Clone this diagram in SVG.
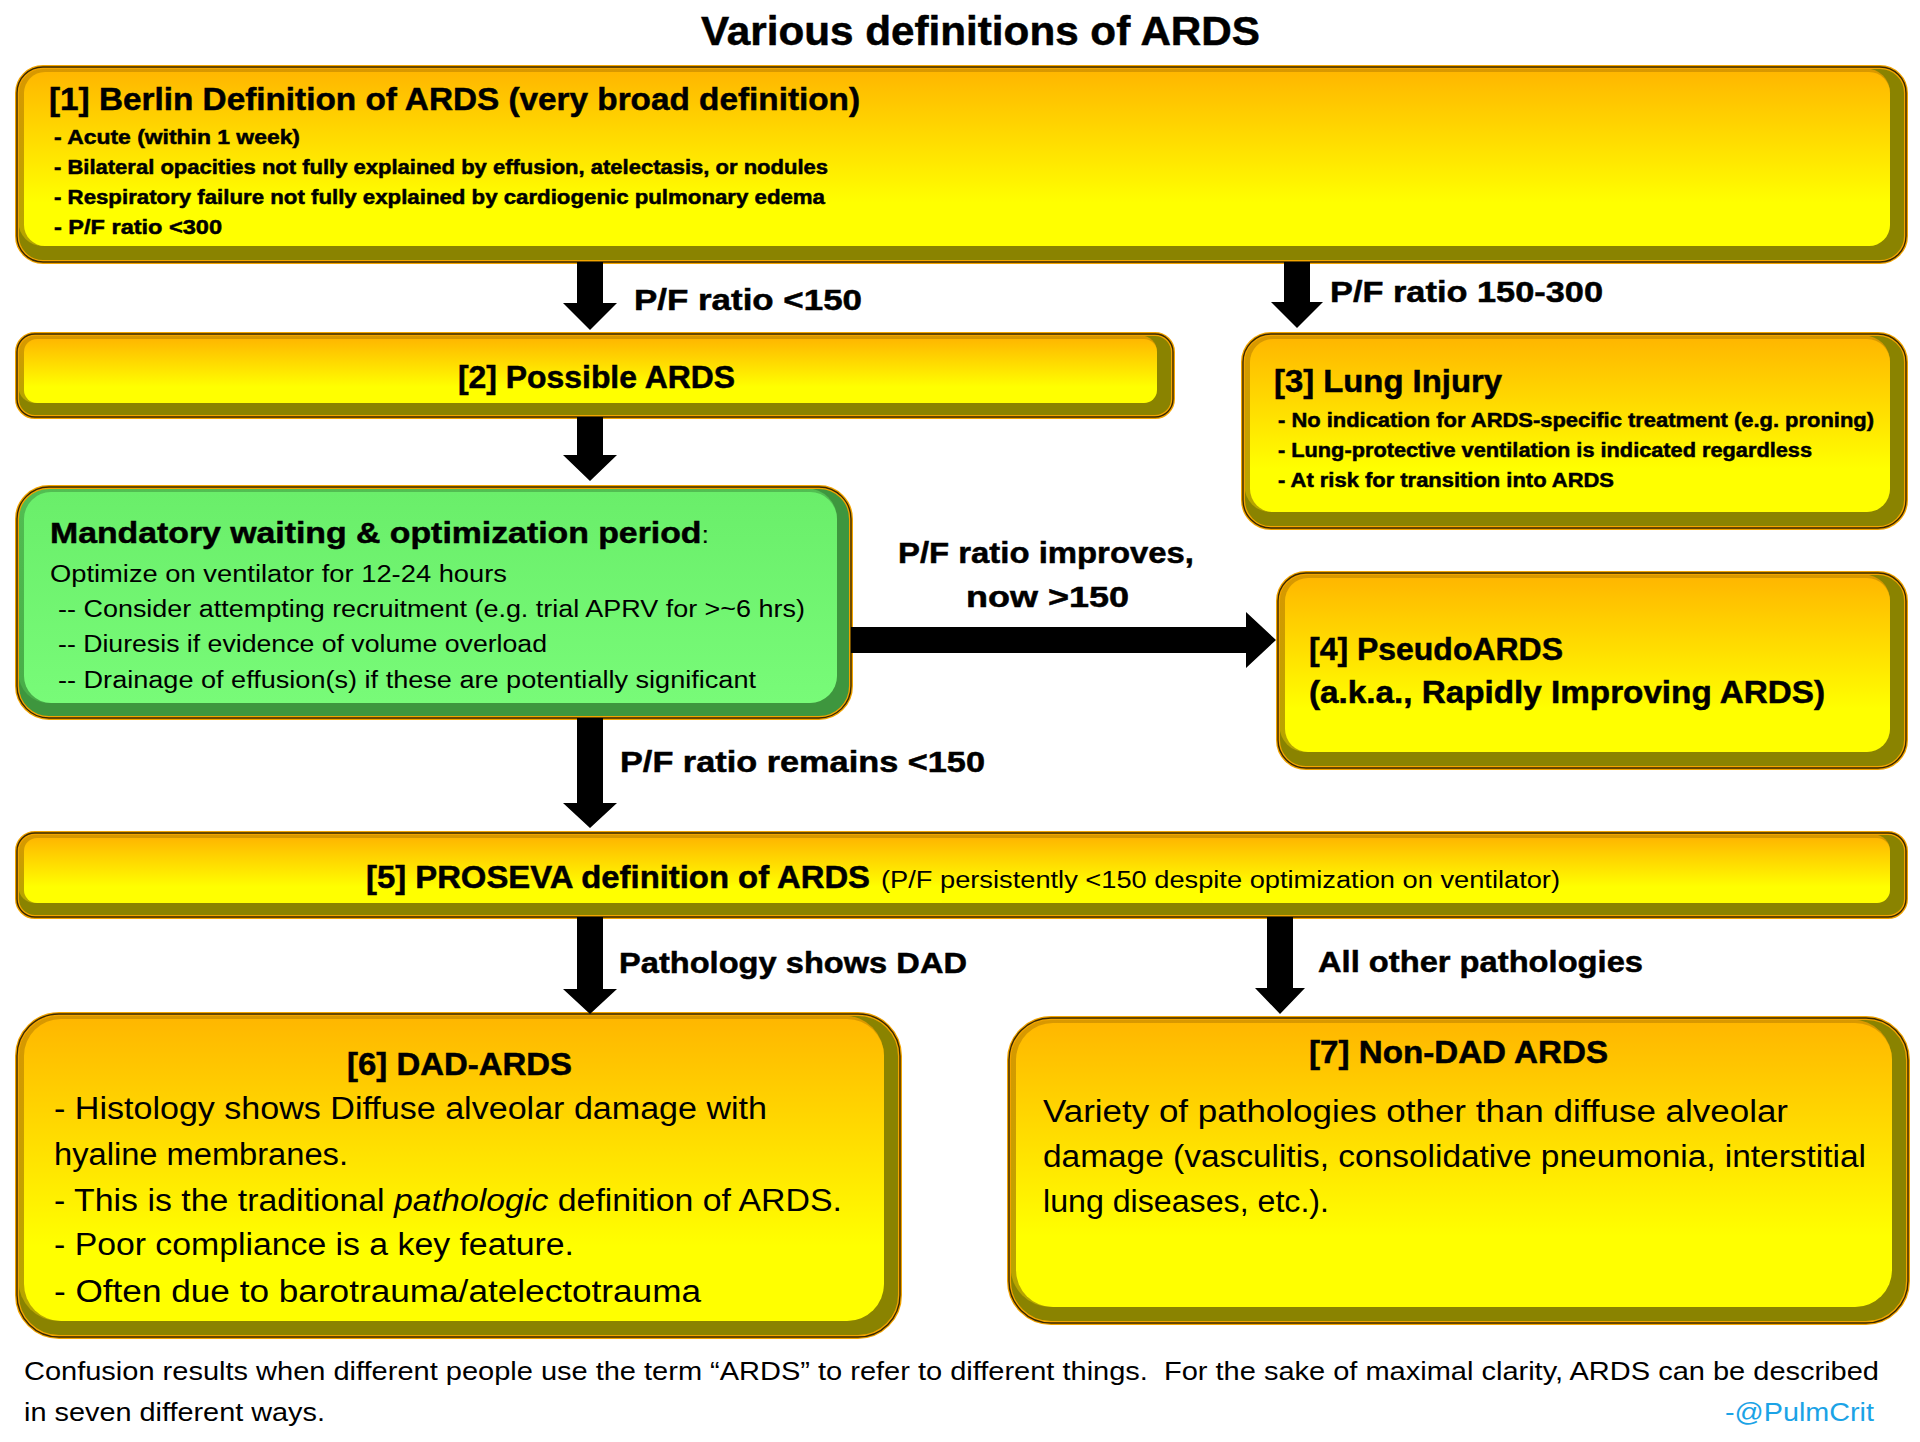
<svg xmlns="http://www.w3.org/2000/svg" width="1920" height="1442" viewBox="0 0 1920 1442">
<defs>
<linearGradient id="gFace" x1="0" y1="0" x2="0" y2="1">
<stop offset="0" stop-color="#FFB700"/><stop offset="0.45" stop-color="#FFE200"/><stop offset="0.75" stop-color="#FFFF00"/><stop offset="1" stop-color="#FFFF00"/>
</linearGradient>
<linearGradient id="gSide" x1="0" y1="0" x2="0" y2="1">
<stop offset="0" stop-color="#D99800"/><stop offset="1" stop-color="#B5A600"/>
</linearGradient>
<linearGradient id="gGFace" x1="0" y1="0" x2="0" y2="1">
<stop offset="0" stop-color="#6AEE6A"/><stop offset="1" stop-color="#78FB78"/>
</linearGradient>
<linearGradient id="gGSide" x1="0" y1="0" x2="0" y2="1">
<stop offset="0" stop-color="#52BE52"/><stop offset="1" stop-color="#48AC48"/>
</linearGradient>
<style>
.ol{fill:#8A8300}
.gol{fill:#3E963E}
.side{fill:url(#gSide)}
.face{fill:url(#gFace)}
.gside{fill:url(#gGSide)}
.gface{fill:url(#gGFace)}
.ln{fill:none;stroke:#F2A400;stroke-width:4}
.dk{fill:none;stroke:#3A2800;stroke-width:1.4}
.b{font-family:"Liberation Sans",Arial,sans-serif;font-weight:bold;fill:#000;stroke:#000;stroke-width:0.5}
.r{font-family:"Liberation Sans",Arial,sans-serif;font-weight:normal;fill:#000;stroke:none}
.arr{fill:#000}
</style>
</defs>
<rect width="1920" height="1442" fill="#FFFFFF"/>

<text id="title" class="b" x="701" y="45" font-size="40" textLength="559" lengthAdjust="spacingAndGlyphs">Various definitions of ARDS</text>

<g id="node1">
<rect x="17" y="67" width="1889" height="195" rx="26" class="ol"/>
<rect x="18.5" y="68.5" width="1871.5" height="177.5" rx="24" class="side"/>
<rect x="24" y="72" width="1866" height="174" rx="21" class="face"/>
<rect x="17" y="67" width="1889" height="195" rx="26" class="ln"/>
<rect x="17" y="67" width="1889" height="195" rx="26" class="dk"/>
<text class="b" x="49" y="110" font-size="32" textLength="811" lengthAdjust="spacingAndGlyphs">[1] Berlin Definition of ARDS (very broad definition)</text>
<text class="b" x="54" y="144" font-size="20" textLength="246" lengthAdjust="spacingAndGlyphs">- Acute (within 1 week)</text>
<text class="b" x="54" y="174" font-size="20" textLength="774" lengthAdjust="spacingAndGlyphs">- Bilateral opacities not fully explained by effusion, atelectasis, or nodules</text>
<text class="b" x="54" y="204" font-size="20" textLength="771" lengthAdjust="spacingAndGlyphs">- Respiratory failure not fully explained by cardiogenic pulmonary edema</text>
<text class="b" x="54" y="234" font-size="20" textLength="168" lengthAdjust="spacingAndGlyphs">- P/F ratio &lt;300</text>
</g>

<g id="node2">
<rect x="17" y="334" width="1156" height="83" rx="18" class="ol"/>
<rect x="18.5" y="335.5" width="1138.5" height="67.5" rx="16" class="side"/>
<rect x="24" y="339" width="1133" height="64" rx="13" class="face"/>
<rect x="17" y="334" width="1156" height="83" rx="18" class="ln"/>
<rect x="17" y="334" width="1156" height="83" rx="18" class="dk"/>
<text class="b" x="458" y="388" font-size="31" textLength="277" lengthAdjust="spacingAndGlyphs">[2] Possible ARDS</text>
</g>

<g id="node3">
<rect x="1243" y="334" width="663" height="194" rx="28" class="ol"/>
<rect x="1244.5" y="335.5" width="645.5" height="176.5" rx="26" class="side"/>
<rect x="1250" y="339" width="640" height="173" rx="23" class="face"/>
<rect x="1243" y="334" width="663" height="194" rx="28" class="ln"/>
<rect x="1243" y="334" width="663" height="194" rx="28" class="dk"/>
<text class="b" x="1274" y="392" font-size="32" textLength="228" lengthAdjust="spacingAndGlyphs">[3] Lung Injury</text>
<text class="b" x="1278" y="427" font-size="20" textLength="596" lengthAdjust="spacingAndGlyphs">- No indication for ARDS-specific treatment (e.g. proning)</text>
<text class="b" x="1278" y="457" font-size="20" textLength="534" lengthAdjust="spacingAndGlyphs">- Lung-protective ventilation is indicated regardless</text>
<text class="b" x="1278" y="487" font-size="20" textLength="336" lengthAdjust="spacingAndGlyphs">- At risk for transition into ARDS</text>
</g>

<g id="nodeWait">
<rect x="17" y="487" width="834" height="231" rx="32" class="gol"/>
<rect x="18.5" y="488.5" width="818.5" height="214.5" rx="30" class="gside"/>
<rect x="24" y="492" width="813" height="211" rx="27" class="gface"/>
<rect x="17" y="487" width="834" height="231" rx="32" class="ln"/>
<rect x="17" y="487" width="834" height="231" rx="32" class="dk"/>
<text class="b" x="50" y="543" font-size="30" textLength="659" lengthAdjust="spacingAndGlyphs">Mandatory waiting &amp; optimization period<tspan class="r" font-size="24">:</tspan></text>
<text class="r" x="50" y="582" font-size="23" textLength="457" lengthAdjust="spacingAndGlyphs">Optimize on ventilator for 12-24 hours</text>
<text class="r" x="58" y="617" font-size="23" textLength="747" lengthAdjust="spacingAndGlyphs">-- Consider attempting recruitment (e.g. trial APRV for &gt;~6 hrs)</text>
<text class="r" x="58" y="652" font-size="23" textLength="489" lengthAdjust="spacingAndGlyphs">-- Diuresis if evidence of volume overload</text>
<text class="r" x="58" y="688" font-size="23" textLength="698" lengthAdjust="spacingAndGlyphs">-- Drainage of effusion(s) if these are potentially significant</text>
</g>

<g id="node4">
<rect x="1278" y="573" width="628" height="195" rx="28" class="ol"/>
<rect x="1279.5" y="574.5" width="610.5" height="177.5" rx="26" class="side"/>
<rect x="1285" y="578" width="605" height="174" rx="23" class="face"/>
<rect x="1278" y="573" width="628" height="195" rx="28" class="ln"/>
<rect x="1278" y="573" width="628" height="195" rx="28" class="dk"/>
<text class="b" x="1309" y="660" font-size="32" textLength="254" lengthAdjust="spacingAndGlyphs">[4] PseudoARDS</text>
<text class="b" x="1309" y="703" font-size="32" textLength="516" lengthAdjust="spacingAndGlyphs">(a.k.a., Rapidly Improving ARDS)</text>
</g>

<g id="node5">
<rect x="17" y="833" width="1889" height="84" rx="18" class="ol"/>
<rect x="18.5" y="834.5" width="1871.5" height="68.5" rx="16" class="side"/>
<rect x="24" y="838" width="1866" height="65" rx="13" class="face"/>
<rect x="17" y="833" width="1889" height="84" rx="18" class="ln"/>
<rect x="17" y="833" width="1889" height="84" rx="18" class="dk"/>
<text class="b" x="366" y="888" font-size="32" textLength="504" lengthAdjust="spacingAndGlyphs">[5] PROSEVA definition of ARDS</text>
<text class="r" x="881" y="888" font-size="23" textLength="679" lengthAdjust="spacingAndGlyphs">(P/F persistently &lt;150 despite optimization on ventilator)</text>
</g>

<g id="node6">
<rect x="17" y="1014" width="883" height="323" rx="42" class="ol"/>
<rect x="18.5" y="1015.5" width="865.5" height="305.5" rx="40" class="side"/>
<rect x="24" y="1019" width="860" height="302" rx="37" class="face"/>
<rect x="17" y="1014" width="883" height="323" rx="42" class="ln"/>
<rect x="17" y="1014" width="883" height="323" rx="42" class="dk"/>
<text class="b" x="347" y="1075" font-size="32" textLength="225" lengthAdjust="spacingAndGlyphs">[6] DAD-ARDS</text>
<text class="r" x="54" y="1119" font-size="31" textLength="713" lengthAdjust="spacingAndGlyphs">- Histology shows Diffuse alveolar damage with</text>
<text class="r" x="54" y="1165" font-size="31" textLength="294" lengthAdjust="spacingAndGlyphs">hyaline membranes.</text>
<text class="r" x="54" y="1211" font-size="31" textLength="788" lengthAdjust="spacingAndGlyphs">- This is the traditional <tspan font-style="italic">pathologic</tspan> definition of ARDS.</text>
<text class="r" x="54" y="1255" font-size="31" textLength="520" lengthAdjust="spacingAndGlyphs">- Poor compliance is a key feature.</text>
<text class="r" x="54" y="1302" font-size="31" textLength="647" lengthAdjust="spacingAndGlyphs">- Often due to barotrauma/atelectotrauma</text>
</g>

<g id="node7">
<rect x="1009" y="1018" width="899" height="305" rx="42" class="ol"/>
<rect x="1010.5" y="1019.5" width="881.5" height="287.5" rx="40" class="side"/>
<rect x="1016" y="1023" width="876" height="284" rx="37" class="face"/>
<rect x="1009" y="1018" width="899" height="305" rx="42" class="ln"/>
<rect x="1009" y="1018" width="899" height="305" rx="42" class="dk"/>
<text class="b" x="1309" y="1063" font-size="32" textLength="299" lengthAdjust="spacingAndGlyphs">[7] Non-DAD ARDS</text>
<text class="r" x="1043" y="1122" font-size="31" textLength="745" lengthAdjust="spacingAndGlyphs">Variety of pathologies other than diffuse alveolar</text>
<text class="r" x="1043" y="1167" font-size="31" textLength="823" lengthAdjust="spacingAndGlyphs">damage (vasculitis, consolidative pneumonia, interstitial</text>
<text class="r" x="1043" y="1212" font-size="31" textLength="286" lengthAdjust="spacingAndGlyphs">lung diseases, etc.).</text>
</g>

<g id="connectors">
<polygon class="arr" points="577,262 603,262 603,303 617,303 590,330 563,303 577,303"/>
<polygon class="arr" points="577,417 603,417 603,455 617,455 590,481 563,455 577,455"/>
<polygon class="arr" points="1284,262 1310,262 1310,302 1323,302 1297,328 1271,302 1284,302"/>
<polygon class="arr" points="851,627 1246,627 1246,612 1276,640 1246,668 1246,653 851,653"/>
<polygon class="arr" points="577,718 603,718 603,803 617,803 590,828 563,803 577,803"/>
<polygon class="arr" points="577,917 603,917 603,989 617,989 590,1014 563,989 577,989"/>
<polygon class="arr" points="1267,917 1293,917 1293,988 1305,988 1280,1014 1255,988 1267,988"/>
<text class="b" x="634" y="310" font-size="30" textLength="228" lengthAdjust="spacingAndGlyphs">P/F ratio &lt;150</text>
<text class="b" x="1330" y="302" font-size="30" textLength="273" lengthAdjust="spacingAndGlyphs">P/F ratio 150-300</text>
<text class="b" x="898" y="563" font-size="30" textLength="296" lengthAdjust="spacingAndGlyphs">P/F ratio improves,</text>
<text class="b" x="966" y="607" font-size="30" textLength="163" lengthAdjust="spacingAndGlyphs">now &gt;150</text>
<text class="b" x="620" y="772" font-size="30" textLength="365" lengthAdjust="spacingAndGlyphs">P/F ratio remains &lt;150</text>
<text class="b" x="619" y="973" font-size="30" textLength="348" lengthAdjust="spacingAndGlyphs">Pathology shows DAD</text>
<text class="b" x="1318" y="972" font-size="30" textLength="325" lengthAdjust="spacingAndGlyphs">All other pathologies</text>
</g>

<g id="footer">
<text class="r" x="24" y="1380" font-size="25" textLength="1855" lengthAdjust="spacingAndGlyphs">Confusion results when different people use the term “ARDS” to refer to different things.&#160; For the sake of maximal clarity, ARDS can be described</text>
<text class="r" x="24" y="1421" font-size="25" textLength="301" lengthAdjust="spacingAndGlyphs">in seven different ways.</text>
<text class="r" x="1725" y="1421" font-size="25" style="fill:#1BA3E6" textLength="149" lengthAdjust="spacingAndGlyphs">-@PulmCrit</text>
</g>
</svg>
